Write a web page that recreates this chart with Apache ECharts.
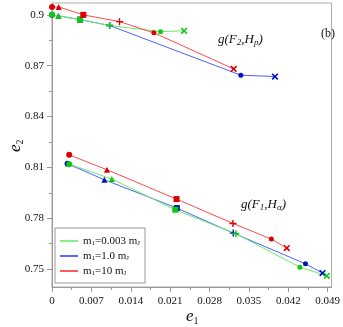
<!DOCTYPE html>
<html>
<head>
<meta charset="utf-8">
<script src="https://cdn.jsdelivr.net/npm/echarts@6/dist/echarts.min.js"></script>
<style>html,body{margin:0;padding:0;background:#fff}#c{width:343px;height:327px}</style>
</head>
<body>
<div id="c"></div>
<script>
// ---- data (e1, e2) ----
const seriesNames = ['m1=0.003 mJ', 'm1=1.0 mJ', 'm1=10 mJ'];
const greenUpper = [[0.0000,0.9000],[0.00114,0.8994],[0.00499,0.8972],[0.01024,0.8937],[0.01929,0.8901],[0.02349,0.8906]];
const blueUpper  = [[0.0000,0.9000],[0.00114,0.8994],[0.00499,0.8972],[0.01024,0.8937],[0.03357,0.8644],[0.03964,0.8636]];
const redUpper   = [[0.0000,0.9047],[0.00119,0.9047],[0.00557,0.9000],[0.01200,0.8960],[0.01811,0.8894],[0.03230,0.8681]];
const greenLower = [[0.00306,0.8119],[0.01064,0.8031],[0.02191,0.7850],[0.03269,0.7708],[0.04407,0.7511],[0.04886,0.7460]];
const blueLower  = [[0.00277,0.8121],[0.00931,0.8027],[0.02219,0.7860],[0.03223,0.7712],[0.04506,0.7531],[0.04809,0.7476]];
const redLower   = [[0.00306,0.8174],[0.00977,0.8086],[0.02214,0.7913],[0.03217,0.7769],[0.03899,0.7677],[0.04174,0.7624]];
const xMajorTicks = [0, 0.007, 0.014, 0.021, 0.028, 0.035, 0.042, 0.049];
const xMinorTicks = [0.0035, 0.0105, 0.0175, 0.0245, 0.0315, 0.0385, 0.0455];
const yMajorTicks = [0.75, 0.78, 0.81, 0.84, 0.87, 0.9];
const yMinorTicks = [0.765, 0.795, 0.825, 0.855, 0.885];

const FONT = '"Liberation Serif","DejaVu Serif",serif';
const plusPath = 'path://M4,0h2v4h4v2h-4v4h-2v-4h-4v-2h4z';
const symbols = ['circle','triangle','rect',plusPath,'circle',plusPath];
const sizes = [6,6,6,7,5,8];
const rots = [0,0,0,0,0,45];

function mk(name, data, lineColor, markColor) {
  return {
    name: name, type: 'line', data: data.map((p,i)=>({value:p, symbol:symbols[i], symbolSize:sizes[i], symbolRotate:rots[i]})),
    lineStyle:{color:lineColor,width:1}, itemStyle:{color:markColor,borderWidth:0},
    showAllSymbol:true, animation:false, z: 2
  };
}
const colG = ['#66ee66','#11c811'], colB=['#5060ff','#0010c0'], colR=['#ff4a4a','#d80000'];

const chart = echarts.init(document.getElementById('c'), null, {renderer:'canvas'});
const grid = {left:52, right:7, top:3, bottom:40, show:true, borderColor:'#aaa', borderWidth:1};
chart.setOption({
  animation:false,
  grid: grid,
  xAxis: [{
    type:'value', min:0, max:0.0497, position:'bottom',
    axisLine:{lineStyle:{color:'#999'}}, splitLine:{show:false},
    axisTick:{customValues:xMajorTicks, length:5, lineStyle:{color:'#999'}},
    axisLabel:{customValues:xMajorTicks, color:'#111', fontFamily:FONT, fontSize:11, margin:9, formatter:v=>String(+v.toFixed(3))}
  },{
    type:'value', min:0, max:0.0497, position:'bottom',
    axisLine:{show:false}, splitLine:{show:false}, axisLabel:{show:false},
    axisTick:{customValues:xMinorTicks, length:3, lineStyle:{color:'#999'}}
  }],
  yAxis: [{
    type:'value', min:0.7394, max:0.907, position:'left',
    axisLine:{show:true, lineStyle:{color:'#999'}}, splitLine:{show:false},
    axisTick:{show:true, customValues:yMajorTicks, length:5, lineStyle:{color:'#999'}},
    axisLabel:{customValues:yMajorTicks, color:'#111', fontFamily:FONT, fontSize:11, margin:8, formatter:v=>String(+v.toFixed(3))}
  },{
    type:'value', min:0.7394, max:0.907, position:'left',
    axisLine:{show:false}, splitLine:{show:false}, axisLabel:{show:false},
    axisTick:{show:true, customValues:yMinorTicks, length:3, lineStyle:{color:'#999'}}
  }],
  legend: {
    data: [
      {name:seriesNames[0], itemStyle:{color:'#88f088'}},
      {name:seriesNames[1], itemStyle:{color:'#5a66ff'}},
      {name:seriesNames[2], itemStyle:{color:'#ff5a5a'}}
    ], orient:'vertical', left:55, top:228,
    padding:[7,5,6,5], itemGap:3, itemWidth:18, itemHeight:2, icon:'rect',
    borderColor:'#999', borderWidth:1, backgroundColor:'#fff',
    formatter: function(n){
      const parts = {'m1=0.003 mJ':'=0.003 m','m1=1.0 mJ':'=1.0 m','m1=10 mJ':'=10 m'};
      return '{n|m}{s|1}{n|' + parts[n] + '}{s|J}';
    },
    textStyle:{color:'#111', fontFamily:FONT, fontSize:11,
      rich:{n:{fontFamily:FONT,fontSize:11,lineHeight:13,color:'#111'}, s:{fontFamily:FONT,fontSize:7,lineHeight:13,padding:[5,0,0,0],color:'#111'}}}
  },
  series: [
    mk(seriesNames[1], blueUpper, colB[0], colB[1]),
    mk(seriesNames[1], blueLower, colB[0], colB[1]),
    mk(seriesNames[0], greenUpper, colG[0], colG[1]),
    mk(seriesNames[0], greenLower, colG[0], colG[1]),
    mk(seriesNames[2], redUpper, colR[0], colR[1]),
    mk(seriesNames[2], redLower, colR[0], colR[1])
  ],
  graphic: [
    {type:'text', left:218, top:32, style:{text:'{i|g(F}{s|2}{i|,H}{s|p}{i|)}', rich:{
      i:{fontFamily:FONT,fontStyle:'italic',fontSize:13,lineHeight:16,fill:'#111'},
      s:{fontFamily:FONT,fontStyle:'italic',fontSize:9,lineHeight:16,padding:[6,0,0,0],fill:'#111'}}}},
    {type:'text', left:241, top:197, style:{text:'{i|g(F}{s|1}{i|,H}{s|α}{i|)}', rich:{
      i:{fontFamily:FONT,fontStyle:'italic',fontSize:13,lineHeight:16,fill:'#111'},
      s:{fontFamily:FONT,fontStyle:'italic',fontSize:9,lineHeight:16,padding:[6,0,0,0],fill:'#111'}}}},
    {type:'text', left:321, top:28, style:{text:'(b)', font:'12px '+FONT, fill:'#111'}},
    {type:'text', left:186, top:308, style:{text:'{i|e}{s|1}', rich:{
      i:{fontFamily:FONT,fontStyle:'italic',fontSize:17,lineHeight:20,fill:'#111'},
      s:{fontFamily:FONT,fontSize:10,lineHeight:20,padding:[8,0,0,0],fill:'#111'}}}},
    {type:'text', x:6, y:152, rotation:Math.PI/2, style:{text:'{i|e}{s|2}', rich:{
      i:{fontFamily:FONT,fontStyle:'italic',fontSize:17,lineHeight:20,fill:'#111'},
      s:{fontFamily:FONT,fontSize:10,lineHeight:20,padding:[8,0,0,0],fill:'#111'}}}}
  ]
});
</script>
</body>
</html>
